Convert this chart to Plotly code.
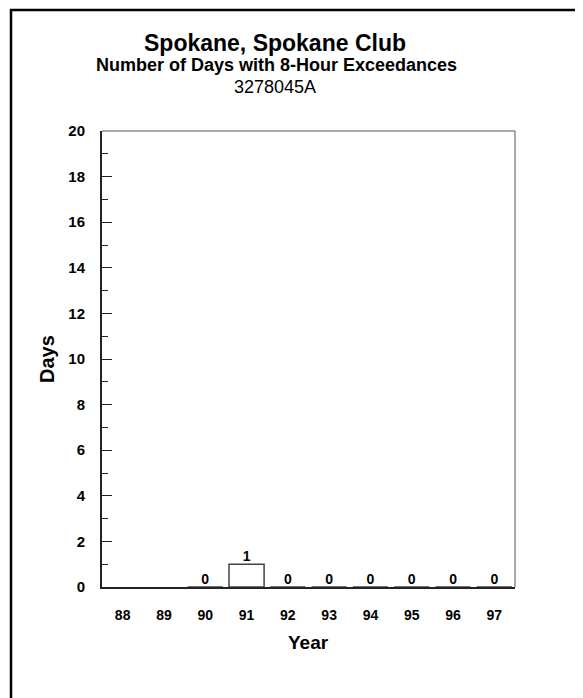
import plotly.graph_objects as go

years = ['88', '89', '90', '91', '92', '93', '94', '95', '96', '97']
days = [None, None, 0, 1, 0, 0, 0, 0, 0, 0]
labels = ['' if d is None else str(d) for d in days]

title = 'Spokane, Spokane Club'
subtitle = 'Number of Days with 8-Hour Exceedances'
site_id = '3278045A'

FONT = 'Arial, Liberation Sans, Helvetica, sans-serif'

# the page body adds ~8px around the figure, so shift everything back
OFF = 8
W, H = 583 - OFF, 698 - OFF
# plot area in screen pixels: x 102..515, y 131..587
L, R, T, B = 102, 515, 131, 587


def px_x(p):
    return (p - L) / (R - L)


def px_y(p):
    return (B - p) / (B - T)


fig = go.Figure()

fig.add_trace(go.Bar(
    x=years, y=days, width=0.85,
    marker=dict(color='white', line=dict(color='#444444', width=1.5)),
    hoverinfo='skip', showlegend=False,
))

fig.add_trace(go.Scatter(
    x=years, y=days, mode='text', text=labels, textposition='top center',
    textfont=dict(family=FONT, size=14, color='black', weight='bold'),
    hoverinfo='skip', showlegend=False,
))

fig.update_xaxes(
    type='category', range=[-0.5, 9.5],
    showline=True, linecolor='#222222', linewidth=2,
    ticks='', showgrid=False, zeroline=False,
    tickfont=dict(family=FONT, size=14, color='black', weight='bold'),
    ticklabelstandoff=14,
)
fig.update_yaxes(
    range=[0, 20], dtick=2, tick0=0,
    showline=True, linecolor='#222222', linewidth=2,
    ticks='inside', ticklen=10, tickwidth=1, tickcolor='#222222',
    minor=dict(dtick=1, ticks='inside', ticklen=6, tickwidth=1, tickcolor='#222222'),
    showgrid=False, zeroline=False,
    tickfont=dict(family=FONT, size=15, color='black', weight='bold'),
    ticklabelstandoff=12,
)

# thin top/right frame lines
fig.add_shape(type='line', xref='paper', yref='paper', x0=0, x1=1, y0=1, y1=1,
              line=dict(color='#555555', width=1))
fig.add_shape(type='line', xref='paper', yref='paper', x0=1, x1=1, y0=0, y1=1,
              line=dict(color='#555555', width=1))

# outer page border: only its top and left sides are in view
fig.add_shape(type='line', xref='paper', yref='paper',
              x0=px_x(10), x1=px_x(600), y0=px_y(10), y1=px_y(10),
              line=dict(color='black', width=2.5))
fig.add_shape(type='line', xref='paper', yref='paper',
              x0=px_x(11), x1=px_x(11), y0=px_y(9), y1=px_y(720),
              line=dict(color='black', width=2.5))

ann = [
    dict(text=title, x=px_x(275), y=px_y(43), size=23, weight='bold'),
    dict(text=subtitle, x=px_x(276), y=px_y(65), size=18, weight='bold'),
    dict(text=site_id, x=px_x(275), y=px_y(87), size=18, weight='normal'),
    dict(text='Year', x=0.5, y=px_y(642), size=19, weight='bold'),
]
for a in ann:
    fig.add_annotation(text=a['text'], x=a['x'], y=a['y'], xref='paper', yref='paper',
                       xanchor='center', yanchor='middle', showarrow=False,
                       font=dict(family=FONT, size=a['size'], color='black', weight=a['weight']))
fig.add_annotation(text='Days', x=px_x(47), y=0.5, xref='paper', yref='paper',
                   xanchor='center', yanchor='middle', showarrow=False, textangle=-90,
                   font=dict(family=FONT, size=20, color='black', weight='bold'))

fig.update_layout(
    width=W, height=H,
    margin=dict(l=L - OFF, r=W + OFF - R, t=T - OFF, b=H + OFF - B, autoexpand=False),
    paper_bgcolor='white', plot_bgcolor='white',
    font=dict(family=FONT, color='black'),
)

fig.write_html("out.html")
